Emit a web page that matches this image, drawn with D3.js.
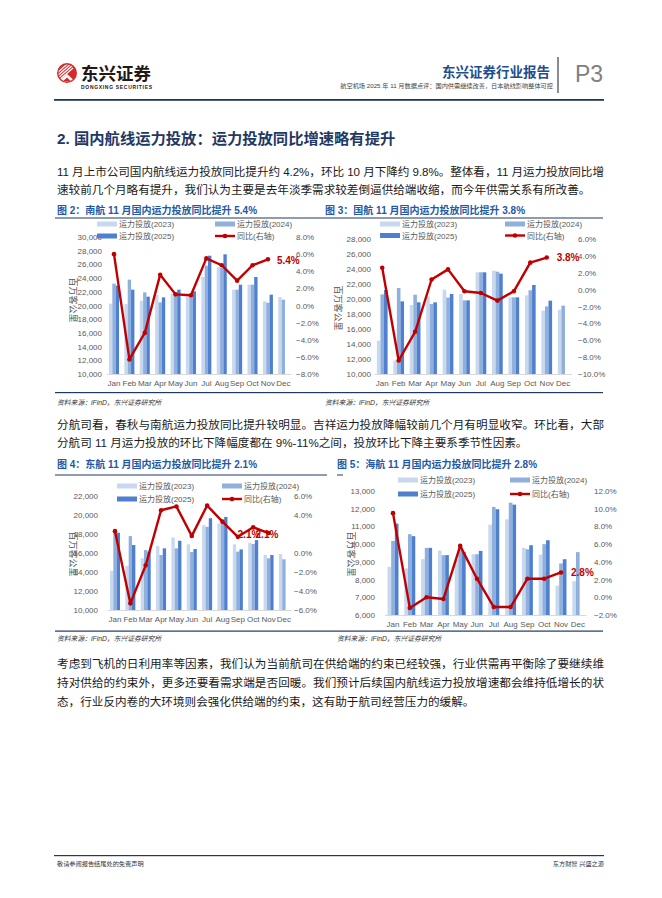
<!DOCTYPE html>
<html>
<head>
<meta charset="utf-8">
<script src="https://cdn.jsdelivr.net/npm/d3@7/dist/d3.min.js"></script>
<style>
  body { margin: 0; background: #fff; }
  svg { display: block; }
  text { font-family: "Liberation Sans", "Noto Sans CJK SC", sans-serif; }
</style>
</head>
<body>
<svg id="page" width="662" height="898"></svg>
<script>
// ---- data ----
var months = ['Jan','Feb','Mar','Apr','May','Jun','Jul','Aug','Sep','Oct','Nov','Dec']
var years = ['2023','2024','2025']

// 南航 (China Southern)
var csa2023 = [20270,20200,20700,21530,21730,21340,24160,25620,22310,23040,20610,21240]
var csa2024 = [23190,23770,21920,20460,21430,21340,25810,25470,22310,23040,20410,20850]
var csa2025 = [22900,22310,21290,21190,22310,22070,27270,27470,23040,24160,21580]
var csaYoy  = [6.0,-6.3,-3.2,3.6,1.3,1.2,5.5,4.7,2.9,4.7,5.4]

// 国航 (Air China)
var ca2023 = [14440,11800,19200,20360,21240,20670,23560,23780,20220,20490,18440,18580]
var ca2024 = [20620,21470,20580,19330,20180,19820,23560,23640,20220,21160,19020,19110]
var ca2025 = [21200,19690,19560,19560,20670,19820,23560,23380,20220,21870,19780]
var caYoy  = [2.6,-8.4,-5.0,1.2,2.4,-0.2,-0.4,-1.3,-0.2,3.2,3.8]

// 东航 (China Eastern)
var ea2023 = [14120,14640,15440,16730,17640,16910,18930,19100,16910,17080,15790,15890]
var ea2024 = [18300,17780,16310,15790,16490,16100,18750,19140,16140,16940,15440,15340]
var ea2025 = [18130,16840,16140,16490,17290,16420,19660,19800,16380,17360,15790]
var eaYoy  = [2.3,-5.3,-1.3,4.5,4.9,1.8,5.0,3.3,1.7,2.7,2.1]

// 海航 (Hainan)
var ha2023 = [8720,8630,9150,9640,9100,9430,11100,11400,9790,9410,7650,7910]
var ha2024 = [10180,10560,9790,9380,9660,9430,12100,12340,9710,10000,8910,9550]
var ha2025 = [11160,10450,9790,9380,9560,9620,11970,12230,9940,10220,9150]
var haYoy  = [9.5,-1.2,0.0,-0.2,5.8,2.1,-1.1,-1.1,2.1,2.1,2.8]

// tick labels
var csaLeftTicks = [10000,12000,14000,16000,18000,20000,22000,24000,26000,28000,30000]
var csaRightTicks = [-8,-6,-4,-2,0,2,4,6,8]
var caLeftTicks = [10000,12000,14000,16000,18000,20000,22000,24000,26000,28000]
var caRightTicks = [-10,-8,-6,-4,-2,0,2,4,6]
var eaLeftTicks = [10000,12000,14000,16000,18000,20000,22000]
var eaRightTicks = [-6,-4,-2,0,4,6]
var haLeftTicks = [6000,7000,8000,9000,10000,11000,12000,13000]
var haRightTicks = [-2,0,2,4,6,8,10,12]

var legendNames = ['运力投放(2023)','运力投放(2024)','运力投放(2025)','同比(右轴)']

// ---- styles ----
var barColors = ['#c8d8ef','#8fb0dd','#4f80cf']
var lineColor = '#c00000'
var navy = '#1f3864'
var titleBlue = '#2358a6'
var grey = '#595959'

var svg = d3.select('#page')

// ---- page header ----
var logo = svg.append('g').attr('transform', 'translate(67,73)')
logo.append('circle').attr('r', 10).attr('fill', '#d52b2b')
logo.append('clipPath').attr('id', 'lc').append('circle').attr('r', 8.6)
var stripes = logo.append('g').attr('clip-path', 'url(#lc)')
;[-6, -3, 0, 3].forEach(function (o) {
  stripes.append('line').attr('x1', -10).attr('y1', o + 6).attr('x2', 6).attr('y2', o - 8)
    .attr('stroke', '#fff').attr('stroke-width', 1.3)
})
stripes.append('path').attr('d', 'M-10,10 L0,1 L10,10 Z').attr('fill', '#fff')
stripes.append('path').attr('d', 'M-6,10 L0,4.5 L6,10 Z').attr('fill', '#d52b2b')

svg.append('text').attr('x', 81).attr('y', 80).attr('font-size', 17.5).attr('font-weight', 'bold')
  .attr('fill', '#231815').text('东兴证券')
svg.append('text').attr('x', 81).attr('y', 88.5).attr('font-size', 5).attr('font-weight', 'bold')
  .attr('fill', '#231815').attr('textLength', 71).text('DONGXING SECURITIES')

svg.append('text').attr('x', 550).attr('y', 77).attr('text-anchor', 'end').attr('font-size', 13.5)
  .attr('font-weight', 'bold').attr('fill', '#1f4e8c').text('东兴证券行业报告')
svg.append('text').attr('x', 553).attr('y', 88).attr('text-anchor', 'end').attr('font-size', 6.2)
  .attr('fill', '#444').text('航空机场 2025 年 11 月数据点评：国内供需继续改善，日本航线影响整体可控')
svg.append('rect').attr('x', 557).attr('y', 57).attr('width', 2).attr('height', 36).attr('fill', '#8c8c8c')
svg.append('text').attr('x', 575).attr('y', 82).attr('font-size', 23).attr('fill', '#808080').text('P3')
svg.append('rect').attr('x', 54).attr('y', 99).attr('width', 550).attr('height', 1.8).attr('fill', navy)

// ---- body text ----
function para(x, y, str, fullWidth) {
  var t = svg.append('text').attr('x', x).attr('y', y).attr('font-size', 11.6)
    .attr('fill', '#1a1a1a').text(str)
  if (fullWidth) t.attr('textLength', fullWidth).attr('lengthAdjust', 'spacing')
}

svg.append('text').attr('x', 57).attr('y', 144).attr('font-size', 15.3).attr('font-weight', 'bold')
  .attr('fill', navy).text('2. 国内航线运力投放：运力投放同比增速略有提升')

para(57, 176, '11 月上市公司国内航线运力投放同比提升约 4.2%，环比 10 月下降约 9.8%。整体看，11 月运力投放同比增', 547)
para(57, 194, '速较前几个月略有提升，我们认为主要是去年淡季需求较差倒逼供给端收缩，而今年供需关系有所改善。')

para(57, 429, '分航司看，春秋与南航运力投放同比提升较明显。吉祥运力投放降幅较前几个月有明显收窄。环比看，大部', 547)
para(57, 447, '分航司 11 月运力投放的环比下降幅度都在 9%-11%之间，投放环比下降主要系季节性因素。')

para(57, 668, '考虑到飞机的日利用率等因素，我们认为当前航司在供给端的约束已经较强，行业供需再平衡除了要继续维', 547)
para(57, 687, '持对供给的约束外，更多还要看需求端是否回暖。我们预计后续国内航线运力投放增速都会维持低增长的状', 547)
para(57, 706, '态，行业反内卷的大环境则会强化供给端的约束，这有助于航司经营压力的缓解。')

// chart frame lines and sources
svg.append('rect').attr('x', 55).attr('y', 217.5).attr('width', 548).attr('height', 1).attr('fill', navy)
svg.append('rect').attr('x', 55).attr('y', 392).attr('width', 548).attr('height', 1.2).attr('fill', navy)
svg.append('rect').attr('x', 55).attr('y', 474.5).attr('width', 272).attr('height', 1).attr('fill', navy)
svg.append('rect').attr('x', 337).attr('y', 474.5).attr('width', 6).attr('height', 1).attr('fill', navy)
svg.append('rect').attr('x', 55).attr('y', 630.5).attr('width', 548).attr('height', 1.2).attr('fill', navy)

;[[57, 405], [325, 405], [57, 641], [337, 641]].forEach(function (p) {
  svg.append('text').attr('x', p[0]).attr('y', p[1]).attr('font-size', 6.8).attr('font-style', 'italic')
    .attr('fill', '#333').text('资料来源：iFinD，东兴证券研究所')
})

// footer
svg.append('rect').attr('x', 54).attr('y', 855).attr('width', 550).attr('height', 1.2).attr('fill', '#233a4f')
svg.append('text').attr('x', 57).attr('y', 866).attr('font-size', 6.2).attr('fill', '#333').text('敬请参阅报告结尾处的免责声明')
svg.append('text').attr('x', 604).attr('y', 866).attr('text-anchor', 'end').attr('font-size', 6.2)
  .attr('fill', '#333').text('东方财智 兴盛之源')

// ---- charts ----
var charts = [
  { title: '图 2：南航 11 月国内运力投放同比提升 5.4%', tx: 57, ty: 213.5,
    series: [csa2023, csa2024, csa2025], yoy: csaYoy,
    lDom: [10000, 30000], lTicks: csaLeftTicks, rDom: [-8, 8], rTicks: csaRightTicks,
    x0: 106.3, x1: 291, yTop: 237, yBot: 374, lLabX: 102, rLabX: 296,
    yTitle: [70, 300], leg: [97, 215, 224, 236], labels: [[9, 1.5]] },
  { title: '图 3：国航 11 月国内运力投放同比提升 3.8%', tx: 325, ty: 213.5,
    series: [ca2023, ca2024, ca2025], yoy: caYoy,
    lDom: [10000, 28000], lTicks: caLeftTicks, rDom: [-10, 6], rTicks: caRightTicks,
    x0: 374, x1: 571.4, yTop: 239, yBot: 374, lLabX: 371, rLabX: 578,
    yTitle: [335, 308], leg: [380, 505, 224, 235.5], labels: [[10, 0]] },
  { title: '图 4：东航 11 月国内运力投放同比提升 2.1%', tx: 57, ty: 468,
    series: [ea2023, ea2024, ea2025], yoy: eaYoy,
    lDom: [10000, 22000], lTicks: eaLeftTicks, rDom: [-6, 6], rTicks: eaRightTicks,
    x0: 107.3, x1: 291.6, yTop: 496, yBot: 610, lLabX: 98, rLabX: 294,
    yTitle: [70, 554], leg: [117, 222, 486, 499], labels: [[-31, 1], [-13, 1]] },
  { title: '图 5：海航 11 月国内运力投放同比提升 2.8%', tx: 337, ty: 468,
    series: [ha2023, ha2024, ha2025], yoy: haYoy,
    lDom: [6000, 13000], lTicks: haLeftTicks, rDom: [-2, 12], rTicks: haRightTicks,
    x0: 384.6, x1: 586.2, yTop: 491, yBot: 615, lLabX: 375, rLabX: 594,
    yTitle: [348, 554], leg: [398, 510, 480, 494], labels: [[10, 0]] }
]

charts.forEach(drawChart)

function drawChart(c) {
  var g = svg.append('g')

  g.append('text').attr('x', c.tx).attr('y', c.ty).attr('font-size', 10).attr('font-weight', 'bold')
    .attr('fill', titleBlue).text(c.title)

  var x = d3.scaleBand().domain(months).range([c.x0, c.x1])
  var xs = d3.scaleBand().domain(years).range([0, x.bandwidth()]).paddingOuter(0.8)
  var yL = d3.scaleLinear().domain(c.lDom).range([c.yBot, c.yTop])
  var yR = d3.scaleLinear().domain(c.rDom).range([c.yBot, c.yTop])
  var cx = function (i) { return x(months[i]) + x.bandwidth() / 2 }

  // bars
  years.forEach(function (yr, k) {
    g.selectAll(null).data(c.series[k]).enter().append('rect')
      .attr('x', function (d, i) { return x(months[i]) + xs(yr) })
      .attr('width', xs.bandwidth())
      .attr('y', function (d) { return yL(d) })
      .attr('height', function (d) { return c.yBot - yL(d) })
      .attr('fill', barColors[k])
  })

  // axes
  var xa = g.append('g').attr('transform', 'translate(0,' + c.yBot + ')')
    .call(d3.axisBottom(x).tickSize(0).tickPadding(6))
  xa.select('.domain').attr('stroke', '#d9d9d9')
  xa.selectAll('text').attr('font-size', 8).attr('fill', grey).attr('font-family', 'Liberation Sans')

  var la = g.append('g').attr('transform', 'translate(' + c.lLabX + ',0)')
    .call(d3.axisLeft(yL).tickValues(c.lTicks).tickSize(0).tickPadding(0).tickFormat(d3.format(',')))
  la.select('.domain').remove()
  la.selectAll('text').attr('font-size', 8).attr('fill', grey).attr('font-family', 'Liberation Sans')

  var ra = g.append('g').attr('transform', 'translate(' + c.rLabX + ',0)')
    .call(d3.axisRight(yR).tickValues(c.rTicks).tickSize(0).tickPadding(0)
      .tickFormat(function (d) { return d3.format('.1f')(d) + '%' }))
  ra.select('.domain').remove()
  ra.selectAll('text').attr('font-size', 8).attr('fill', grey).attr('font-family', 'Liberation Sans')

  g.append('text').attr('transform', 'translate(' + c.yTitle[0] + ',' + c.yTitle[1] + ') rotate(90)')
    .attr('text-anchor', 'middle').attr('font-size', 9).attr('fill', grey)
    .attr('font-family', 'Noto Sans CJK SC').text('百万客公里')

  // last value label (sits under the line)
  var last = c.yoy.length - 1
  c.labels.forEach(function (o) {
    g.append('text').attr('x', cx(last) + o[0]).attr('y', yR(c.yoy[last]) + 3.5 + o[1])
      .attr('font-size', 10).attr('font-weight', 'bold').attr('fill', lineColor)
      .text(d3.format('.1f')(c.yoy[last]) + '%')
  })

  // yoy line
  var line = d3.line().x(function (d, i) { return cx(i) }).y(function (d) { return yR(d) })
  g.append('path').datum(c.yoy).attr('d', line).attr('fill', 'none')
    .attr('stroke', lineColor).attr('stroke-width', 2.4).attr('stroke-linejoin', 'round')
  g.selectAll(null).data(c.yoy).enter().append('circle')
    .attr('cx', function (d, i) { return cx(i) }).attr('cy', function (d) { return yR(d) })
    .attr('r', 2.3).attr('fill', lineColor)

  // legend
  var L = c.leg
  var items = [[L[0], L[2]], [L[1], L[2]], [L[0], L[3]], [L[1], L[3]]]
  items.forEach(function (p, k) {
    if (k < 3) {
      g.append('rect').attr('x', p[0]).attr('y', p[1] - 2.5).attr('width', 20).attr('height', 5)
        .attr('fill', barColors[k])
    } else {
      g.append('line').attr('x1', p[0]).attr('x2', p[0] + 20).attr('y1', p[1]).attr('y2', p[1])
        .attr('stroke', lineColor).attr('stroke-width', 2.4)
      g.append('circle').attr('cx', p[0] + 10).attr('cy', p[1]).attr('r', 2.3).attr('fill', lineColor)
    }
    g.append('text').attr('x', p[0] + 22).attr('y', p[1] + 3).attr('font-size', 8).attr('fill', grey)
      .text(legendNames[k])
  })
}
</script>
</body>
</html>
